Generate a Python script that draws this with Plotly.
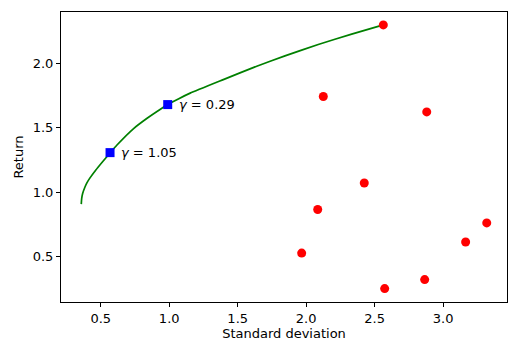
import plotly.graph_objects as go

# Efficient frontier curve
curve_std = [0.358, 0.361, 0.368, 0.385, 0.400, 0.418, 0.463, 0.512, 0.568, 0.617, 0.740,
             0.836, 0.933, 0.989, 1.070, 1.153, 1.395, 1.639, 1.845, 2.088, 2.332, 2.563]
curve_ret = [0.908, 0.950, 0.990, 1.041, 1.075, 1.106, 1.171, 1.235, 1.305, 1.365, 1.495,
             1.573, 1.643, 1.681, 1.727, 1.770, 1.875, 1.979, 2.059, 2.148, 2.228, 2.300]

# Individual assets
asset_std = [2.563, 2.125, 2.880, 2.424, 2.084, 1.967, 2.573, 2.865, 3.164, 3.318]
asset_ret = [2.300, 1.744, 1.624, 1.072, 0.866, 0.528, 0.252, 0.322, 0.614, 0.762]

# Highlighted trade-off points
gamma_std = [0.568, 0.989]
gamma_ret = [1.308, 1.681]
gamma_labels = ["1.05", "0.29"]

x_ticks = [0.5, 1.0, 1.5, 2.0, 2.5, 3.0]
y_ticks = [0.5, 1.0, 1.5, 2.0]

font = dict(family="DejaVu Sans", size=13, color="black")

fig = go.Figure()
fig.add_trace(go.Scatter(x=curve_std, y=curve_ret, mode="lines",
                         line=dict(color="#008000", width=1.7, shape="spline", smoothing=0.5),
                         hoverinfo="skip", showlegend=False))
fig.add_trace(go.Scatter(x=asset_std, y=asset_ret, mode="markers",
                         marker=dict(color="#ff0000", size=9, symbol="circle"),
                         showlegend=False))
fig.add_trace(go.Scatter(x=gamma_std, y=gamma_ret, mode="markers",
                         marker=dict(color="#0000ff", size=9, symbol="square"),
                         showlegend=False))

for xs, ys, lab in zip(gamma_std, gamma_ret, gamma_labels):
    fig.add_annotation(x=xs, y=ys, text="<i>γ</i> = " + lab, showarrow=False,
                       xanchor="left", yanchor="middle", xshift=9, font=font)

axis_common = dict(showline=True, linecolor="black", linewidth=1, mirror=True,
                   ticks="outside", ticklen=4, tickwidth=1, tickcolor="black",
                   showgrid=False, zeroline=False, tickfont=font)

fig.update_xaxes(range=[0.21, 3.466], tickvals=x_ticks, ticktext=[f"{v:.1f}" for v in x_ticks],
                 title=dict(text="Standard deviation", font=font, standoff=4), **axis_common)
fig.update_yaxes(range=[0.148, 2.40], tickvals=y_ticks, ticktext=[f"{v:.1f}" for v in y_ticks],
                 title=dict(text="Return", font=font, standoff=6), **axis_common)

fig.update_layout(width=523, height=353, margin=dict(l=61, r=16, t=12, b=51),
                  plot_bgcolor="white", paper_bgcolor="white", font=font)

fig.write_html("out.html")
